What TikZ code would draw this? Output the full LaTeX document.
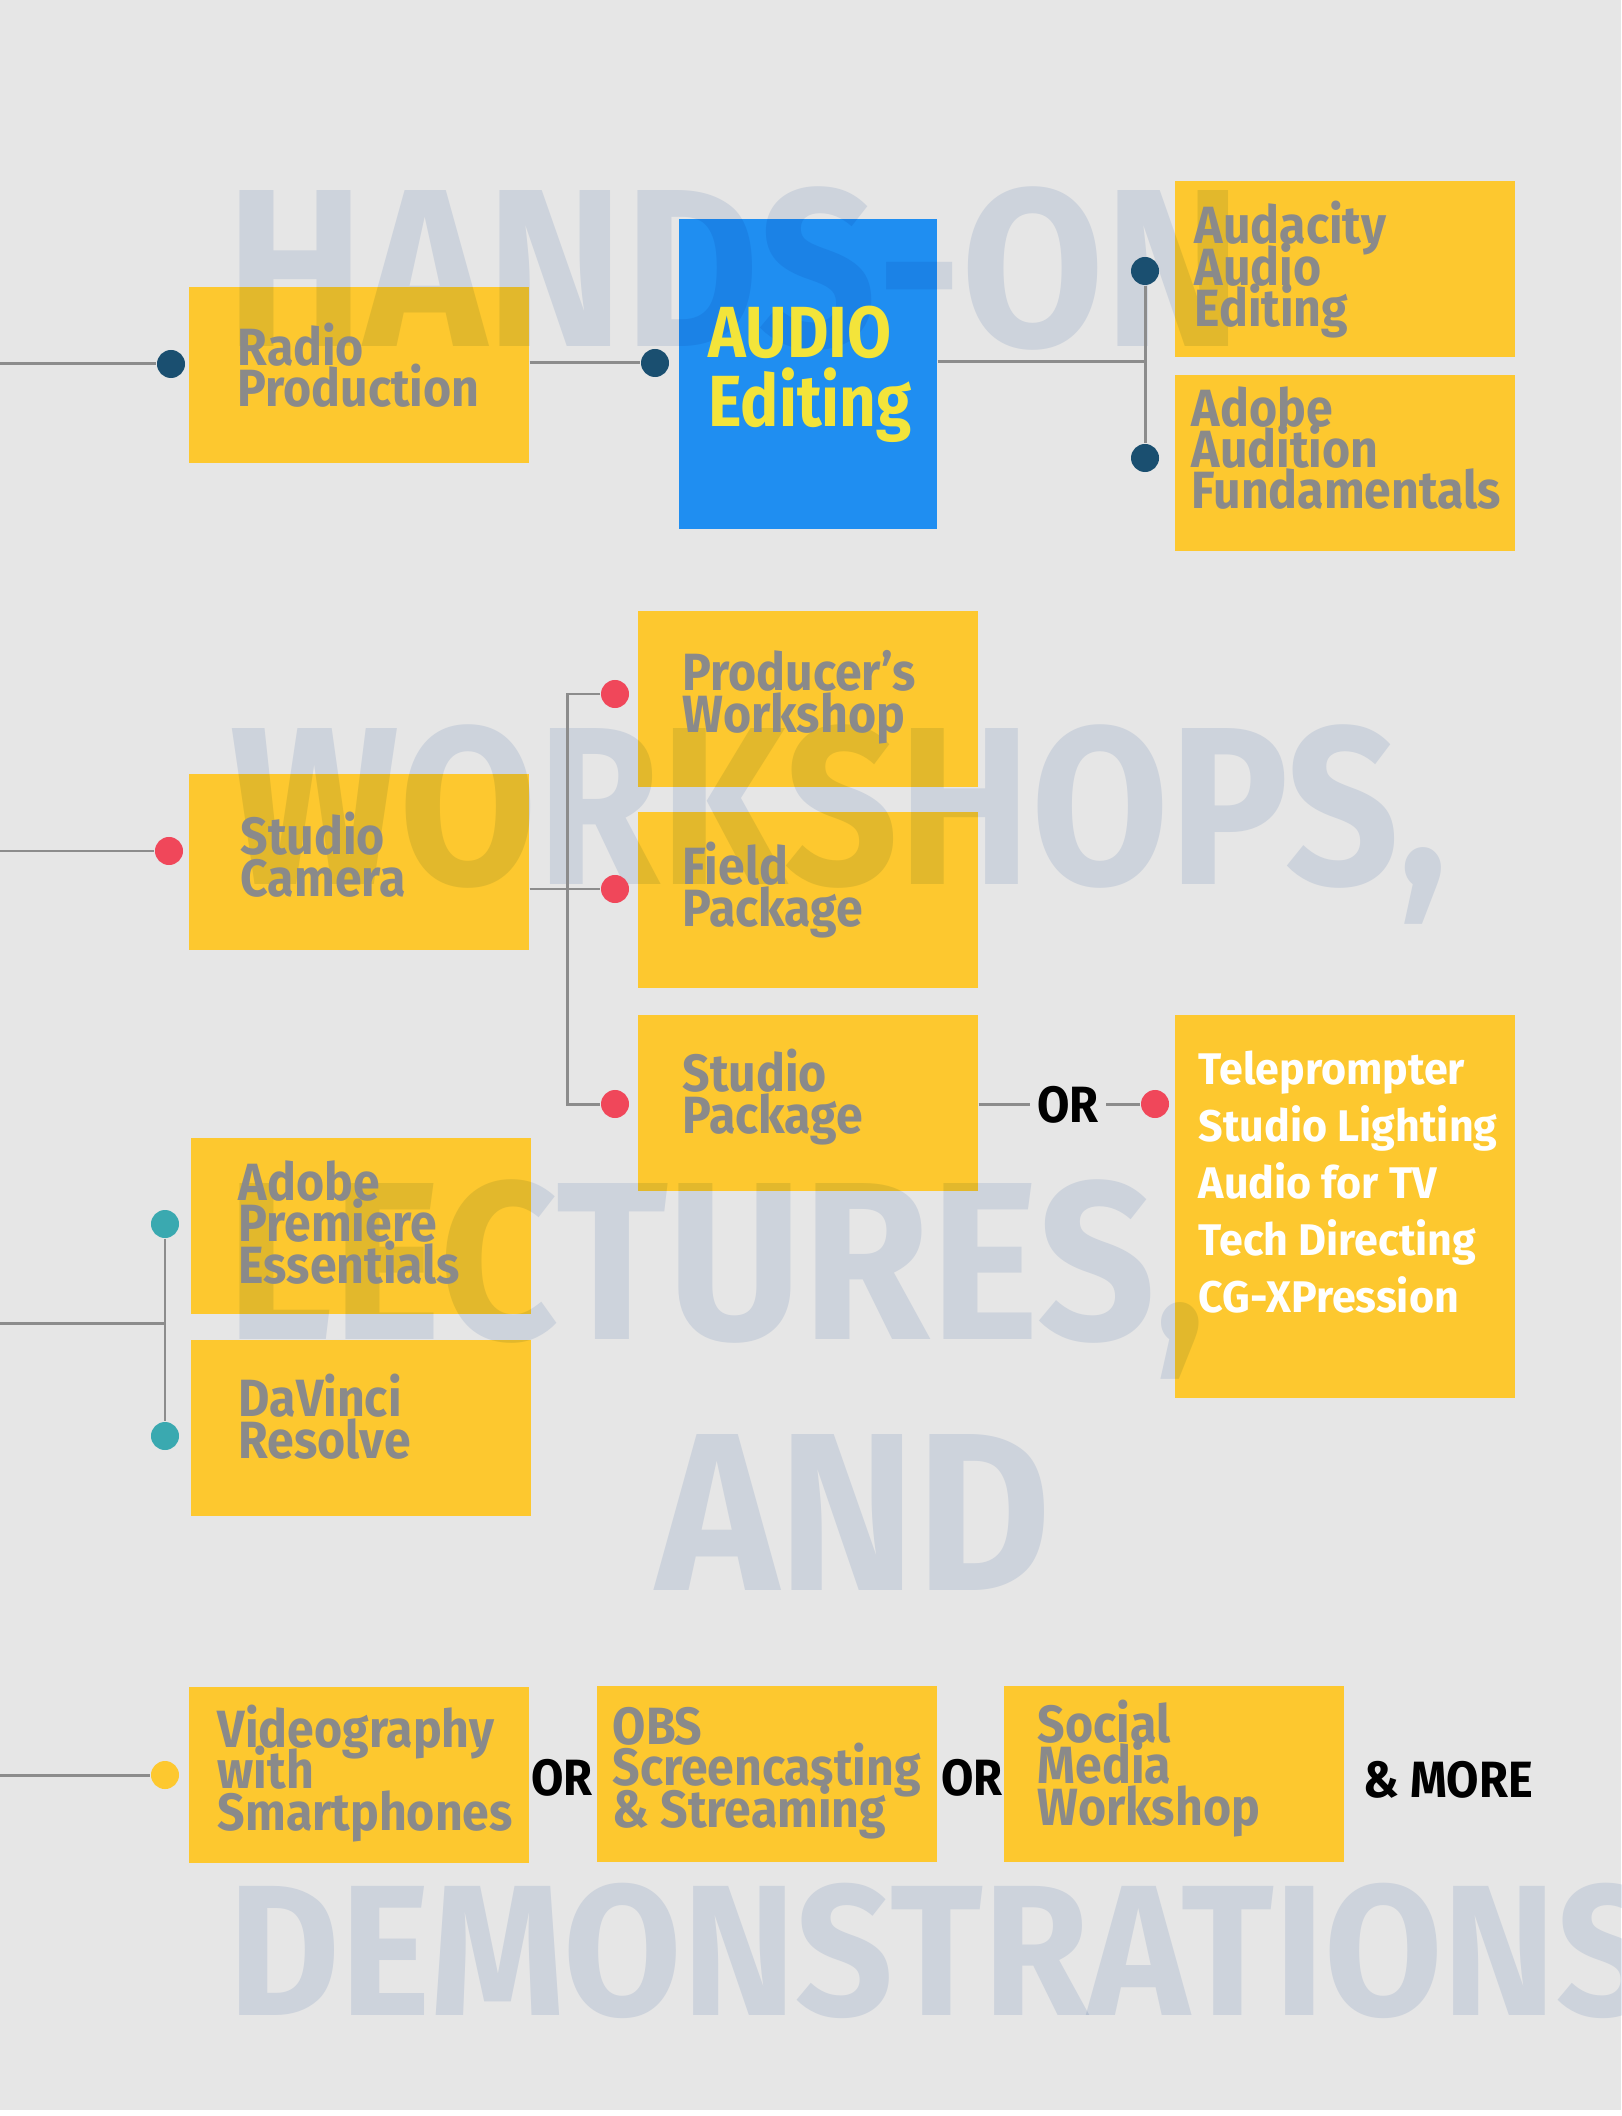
\documentclass[tikz,border=0pt]{standalone}
\usepackage{fontspec}
\newfontfamily\dinfont[FakeStretch=0.92]{Fira Sans}
\newfontfamily\herofont[FakeStretch=0.88]{Fira Sans}
\newfontfamily\listfont[FakeStretch=0.97]{Fira Sans}
\usetikzlibrary{positioning,calc}
\definecolor{wsBack}{HTML}{E6E6E6}
\definecolor{wsYellow}{HTML}{FDC82F}
\definecolor{wsBlue}{HTML}{1F8EF1}
\definecolor{wsLemon}{HTML}{F3E43A}
\definecolor{wsText}{HTML}{8A8A8A}
\definecolor{wsLine}{HTML}{8C8C8C}
\definecolor{wsNavy}{HTML}{1A4F70}
\definecolor{wsRed}{HTML}{F0475A}
\definecolor{wsTeal}{HTML}{3AA9B0}
\definecolor{wsMark}{HTML}{E4EBF4}
\newcommand{\tightlines}{\lineskiplimit-50pt\relax}
\tikzset{
  box/.style={fill=wsYellow, minimum width=3.40cm, minimum height=1.76cm,
              inner sep=0pt, anchor=north west},
  hero/.style={box, fill=wsBlue, minimum width=2.58cm, minimum height=3.10cm},
  % base = last line of the label
  lbl/.style={anchor=base west, align=left, inner sep=0pt, text=wsText,
              font=\dinfont\bfseries\fontsize{14.9}{11.8}\selectfont\tightlines},
  herolbl/.style={lbl, text=wsLemon,
              font=\herofont\bfseries\fontsize{20.6}{19.9}\selectfont\tightlines},
  listlbl/.style={lbl, text=white,
              font=\listfont\bfseries\fontsize{12.6}{16.2}\selectfont\tightlines},
  ortxt/.style={anchor=base, inner sep=2pt, text=black,
              font=\dinfont\bfseries\fontsize{14.5}{14.5}\selectfont},
  wmark/.style={anchor=base west, inner sep=0pt, text=wsMark,
              font=\dinfont\bfseries\fontsize{64}{64}\selectfont},
  dot/.style={circle, fill=#1, minimum size=0.28cm, inner sep=0pt},
  link/.style={draw=wsLine, line width=0.85pt},
}

\begin{document}
\begin{tikzpicture}[x=0.01cm, y=-0.01cm]
  \useasboundingbox (0,0) rectangle (1621,2116);
  \fill[wsBack] (0,0) rectangle (1621,2110);

  % boxes
  \node[box] (radio) at (188,286) {};
  \node[hero] (audio) at (678,218) {};
  \node[box] (audacity) at (1174,180) {};
  \node[box] (audition) at (1174,374) {};
  \node[box] (producer) at (637,610) {};
  \node[box] (field) at (637,811) {};
  \node[box] (studiopkg) at (637,1014) {};
  \node[box, minimum height=3.83cm] (tvlist) at (1174,1014) {};
  \node[box] (camera) at (188,773) {};
  \node[box] (premiere) at (190,1137) {};
  \node[box] (davinci) at (190,1339) {};
  \node[box] (phone) at (188,1686) {};
  \node[box] (obs) at (596,1685) {};
  \node[box] (social) at (1003,1685) {};

  % big words behind the text
  \begin{scope}[blend mode=multiply]
    \clip (0,0) rectangle (1621,2116);
    \node[wmark] (wm-hands) at (226,347) {HANDS-ON};
    \node[wmark] (wm-work) at (230,884) {\scalebox{0.963}[1]{WORKSHOPS,}};
    \node[wmark] (wm-lect) at (226,1339) {LECTURES,};
    \node[wmark] (wm-and) at (656,1590) {AND};
    \node[wmark, font=\dinfont\bfseries\fontsize{53}{53}\selectfont] (wm-demo) at (228,2015) {DEMONSTRATIONS};
  \end{scope}

  \node[lbl] (radio-t) at (237,407) {Radio\\Production};
  \node[herolbl] (audio-t) at (708,427) {AUDIO\\Editing};
  \node[lbl] (audacity-t) at (1194,327) {Audacity\\Audio\\Editing};
  \node[lbl] (audition-t) at (1191,509) {Adobe\\Audition\\Fundamentals};
  \node[lbl] (producer-t) at (682,732) {Producer’s\\Workshop};
  \node[lbl] (field-t) at (682,926) {Field\\Package};
  \node[lbl] (studiopkg-t) at (682,1133) {Studio\\Package};
  \node[listlbl] (tvlist-t) at (1198,1312)
    {Teleprompter\\Studio Lighting\\Audio for TV\\Tech Directing\\CG-XPression};
  \node[lbl] (camera-t) at (240,896) {Studio\\Camera};
  \node[lbl] (premiere-t) at (238,1283) {Adobe\\Premiere\\Essentials};
  \node[lbl] (davinci-t) at (238,1458) {DaVinci\\Resolve};
  \node[lbl] (phone-t) at (217,1830) {Videography\\with\\Smartphones};
  \node[lbl] (obs-t) at (612,1827) {OBS\\Screencasting\\\& Streaming};
  \node[lbl] (social-t) at (1037,1825) {Social\\Media\\Workshop};

  \node[ortxt] (or-tv) at (1068,1122) {OR};
  \node[ortxt] (or-1) at (562,1795) {OR};
  \node[ortxt] (or-2) at (972,1795) {OR};
  \node[ortxt] (more) at (1448,1797) {\& MORE};

  % dots
  \node[dot=wsNavy] (d-radio) at (171,364) {};
  \node[dot=wsNavy] (d-audio) at (655,363) {};
  \node[dot=wsNavy] (d-audacity) at (1145,271) {};
  \node[dot=wsNavy] (d-audition) at (1145,458) {};
  \node[dot=wsRed] (d-camera) at (169,851) {};
  \node[dot=wsRed] (d-producer) at (615,694) {};
  \node[dot=wsRed] (d-field) at (615,889) {};
  \node[dot=wsRed] (d-studiopkg) at (615,1104) {};
  \node[dot=wsRed] (d-tvlist) at (1155,1104) {};
  \node[dot=wsTeal] (d-premiere) at (165,1224) {};
  \node[dot=wsTeal] (d-davinci) at (165,1436) {};
  \node[dot=wsYellow] (d-phone) at (165,1775) {};

  \coordinate (in-radio) at (0,364);
  \coordinate (in-camera) at (0,851);
  \coordinate (in-edit) at (0,1323);
  \coordinate (in-phone) at (0,1775);
  \coordinate (j-audio) at (1145,362);
  \coordinate (j-camera) at (567,889);
  \coordinate (j-edit) at (165,1323);

  % connectors
  \draw[link] (in-radio) -- (d-radio);
  \draw[link] (radio.east |- d-audio) -- (d-audio);
  \draw[link] (audio.east |- j-audio) -- (j-audio);
  \draw[link] (d-audacity) -- (d-audition);
  \draw[link] (in-camera) -- (d-camera);
  \draw[link] (camera.east |- j-camera) -- (j-camera);
  \draw[link] (d-producer) -| (j-camera) |- (d-studiopkg);
  \draw[link] (j-camera) -- (d-field);
  \draw[link] (studiopkg.east |- d-tvlist) -- (or-tv.west |- d-tvlist);
  \draw[link] (or-tv.east |- d-tvlist) -- (d-tvlist);
  \draw[link] (in-edit) -- (j-edit);
  \draw[link] (d-premiere) -- (d-davinci);
  \draw[link] (in-phone) -- (d-phone);
\end{tikzpicture}
\end{document}
